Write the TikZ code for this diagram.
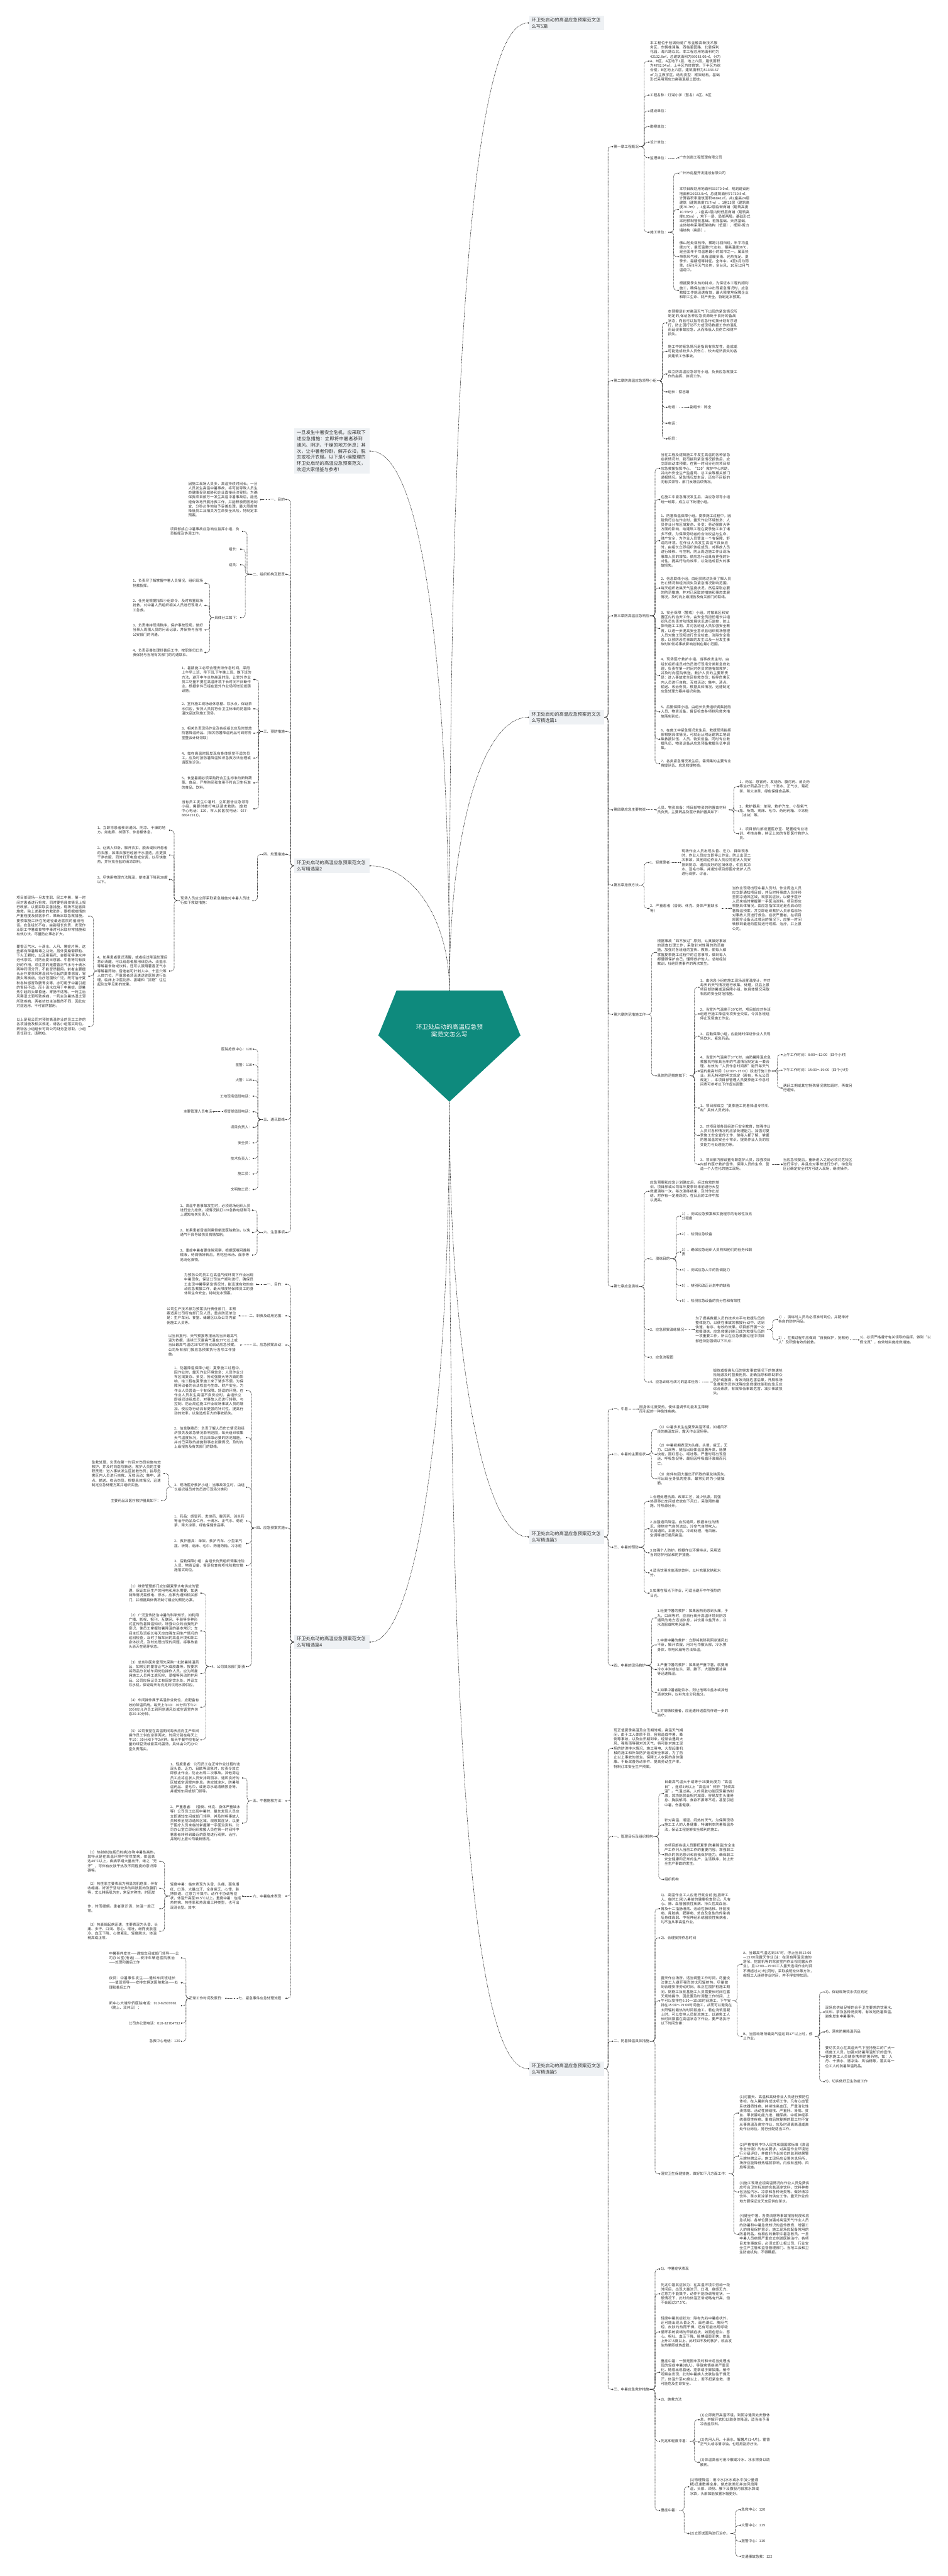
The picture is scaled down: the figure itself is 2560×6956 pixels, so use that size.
\documentclass[tikz,border=0pt]{standalone}
\usepackage{fontspec}
\setmainfont{Noto Sans CJK SC}
\usetikzlibrary{arrows.meta}
\XeTeXlinebreaklocale "zh"
\XeTeXlinebreakskip=0pt plus 1pt
\definecolor{rootteal}{HTML}{0E8A7D}
\definecolor{branchfill}{HTML}{EEF1F4}
\definecolor{inkgray}{HTML}{333333}
\definecolor{wiregray}{HTML}{3A3A3A}

\tikzset{
  lbl/.style={font=\fontsize{9.6}{12.3}\selectfont, text=inkgray, inner sep=1.5pt},
  blk/.style={lbl, text width=192pt, align=left},
  branch/.style={fill=branchfill, font=\fontsize{12.3}{16.8}\selectfont, text=inkgray,
                 text width=189pt, align=left, inner xsep=7pt, inner ysep=5pt},
  rootlbl/.style={font=\fontsize{16.4}{21.7}\selectfont, text=white, align=center},
  link/.style={draw=wiregray, line width=1.1pt, dash pattern=on 2.5pt off 1.5pt,
               rounded corners=8pt, -{Circle[length=3.6pt]}},
}
% connectors: right side, left side, straight
\newcommand{\lnkR}[2]{\draw[link] (#1.east) -| ([xshift=-14pt]#2.west) -- (#2.west);}
\newcommand{\lnkL}[2]{\draw[link] (#1.west) -| ([xshift=14pt]#2.east) -- (#2.east);}
\newcommand{\lnkS}[2]{\draw[link] (#1.east) -- (#2.west);}
\newcommand{\lnkSL}[2]{\draw[link] (#1.west) -- (#2.east);}

\begin{document}
\begin{tikzpicture}[x=1pt,y=-1pt]
  \fill[white] (0,0) rectangle (2560,6956);
  \useasboundingbox (0,0) rectangle (2560,6956);

  % root
  \fill[rootteal] (1071,2675) -- (1357,2675) -- (1406,2796) -- (1214,2975) -- (1022,2796) -- cycle;
  \node[rootlbl] (root) at (1214,2783) {环卫处启动的高温应急预\\案范文怎么写};
  \coordinate (ptop) at (1214,2675);
  \coordinate (pbot) at (1214,2975);

  % first level
  \node[branch,anchor=west] (top) at (1429,62) {环卫处启动的高温应急预案范文怎么写5篇};
  \node[branch,anchor=east] (intro) at (998,1218) {一旦发生中暑安全危机，应采取下述应急措施：立即将中暑者移到通风、阴凉、干燥的地方休息；其次，让中暑者仰卧，解开衣扣，脱去或松开衣服。以下是小编整理的环卫处启动的高温应急预案范文，欢迎大家借鉴与参考!};
  \node[branch,anchor=west] (b1) at (1429,1937) {环卫处启动的高温应急预案范文怎么写精选篇1};
  \node[branch,anchor=east] (b2) at (998,2338) {环卫处启动的高温应急预案范文怎么写精选篇2};
  \node[branch,anchor=west] (b3) at (1429,4150) {环卫处启动的高温应急预案范文怎么写精选篇3};
  \node[branch,anchor=east] (b4) at (998,4434) {环卫处启动的高温应急预案范文怎么写精选篇4};
  \node[branch,anchor=west] (b5) at (1429,5586) {环卫处启动的高温应急预案范文怎么写精选篇5};
  \draw[link] (ptop) .. controls +(0,-1500) and +(-170,0) .. (top.west);
  \draw[link] (ptop) .. controls +(0,-450) and +(-120,0) .. (b1.west);
  \draw[link] (ptop) .. controls +(0,-900) and +(140,0) .. (intro.east);
  \draw[link] (ptop) .. controls +(0,-200) and +(110,0) .. (b2.east);
  \draw[link] (pbot) .. controls +(0,700) and +(-120,0) .. (b3.west);
  \draw[link] (pbot) .. controls +(0,1500) and +(-170,0) .. (b5.west);
  \draw[link] (pbot) .. controls +(0,900) and +(120,0) .. (b4.east);

  % ---------- 篇1 ----------
  \foreach \n/\y/\t in {c1/396/{第一章工程概况}, c2/1028/{第二章防高温应急领导小组},
      c3/1663/{第三章防高温应急响应}, c4/2187/{第四章应急主要物资}, c5/2390/{第五章抢救方法},
      c6/2739/{第六章防范措施工作}, c7/3474/{第七章应急演练}} {
    \node[lbl,anchor=west] (\n) at (1656.5,\y) {\t};
    \lnkR{b1}{\n}
  }
  \foreach \n/\s/\y/\t in {
      c1a/blk/165/{本工程位于桂城街道广东金融高新技术服务区，东朝桂澜路，西临碧园路，北靠保利花园，海六路以北。本工程总用地面积约为42132.8㎡，总建筑面积为56083.00㎡，分为A、B区，A区地下1层，地上六层，建筑面积为4782.94㎡，上半区为体育馆，下半区为综合楼；B区地上六层，建筑面积为51343.67㎡,为主教学区。结构类型：框架结构。基础形式采用预应力高强混凝土管桩。},
      c1b/lbl/257/{工程名称：灯湖小学（暂名）A区、B区}, c1c/lbl/300/{建设单位：},
      c1d/lbl/342/{勘察单位：}, c1e/lbl/384/{设计单位：}, c1f/lbl/426/{监理单位：},
      c1g/lbl/627/{施工单位：}} {
    \node[\s,anchor=west] (\n) at (1754.5,\y) {\t};
    \lnkR{c1}{\n}
  }
  \node[lbl,anchor=west] (c1f1) at (1833.8,426) {广东创南工程管理有限公司};
  \lnkS{c1f}{c1f1}
  \foreach \n/\s/\y/\t in {
      c1g1/lbl/468/{广州市房屋开发建设有限公司},
      c1g2/blk/566/{本项目规划用地面积33370.0㎡，规划建设用地面积26023.0㎡，总建筑面积71730.5㎡，计算容积率建筑面积46841㎡，共2座高24层建筑（建筑高度73.7m）、1座23层（建筑高度70.7m），3座高2层临街商铺（建筑高度10.55m），2座高1层内街低层商铺（建筑高度6.05m），地下一层、局部两层。基础形式采用预制管桩基础、桩筏基础、天然基础，主体结构采用框架结构（低层）、框架-剪力墙结构（高层）。},
      c1g3/blk/693/{佛山地处亚热带，横跨北回归线，年平均温度22℃，最低温度0℃左右，最高温度38℃，是全国年平均温差最小的城市之一。属亚热带季风气候，具有温暖多雨、光热充足、夏季长、霜期短等特征。全年中，4至6月为雨季，8至9月天气炎热，多台风，10至12月气温适中。},
      c1g4/blk/784/{根据夏季炎热的特点，为保证本工程的顺利施工，确保在施工中出现紧急情况时，应急救援工作能迅速有效，最大限度地保障企业和职工生命、财产安全，特制定本预案。}} {
    \node[\s,anchor=west] (\n) at (1833.8,\y) {\t};
    \lnkR{c1g}{\n}
  }
  \foreach \n/\s/\y/\t in {
      c2a/blk/872/{本预案是针对高温天气下出现的紧急情况所制定的,保证各种应急资源处于良好的备战状态；而且可以指导应急行动按计划有序进行，防止因行动不力或现场救援工作的混乱而延误事故应急，从而降低人员伤亡和财产损失。},
      c2b/blk/949/{施工中的紧急情况是指具有突发性，造成或可能造成较多人员伤亡、较大经济损失的各类建筑工伤事故。},
      c2c/blk/1010/{成立防高温应急领导小组，负责应急救援工作的指挥、协调工作。},
      c2d/lbl/1058/{组长：蔡志雄}, c2e/lbl/1100/{电话：}, c2f/lbl/1143/{电话：}, c2g/lbl/1185/{组员：}} {
    \node[\s,anchor=west] (\n) at (1803,\y) {\t};
    \lnkR{c2}{\n}
  }
  \node[lbl,anchor=west] (c2e1) at (1862.2,1100) {副组长：陈全};
  \lnkS{c2e}{c2e1}
  \foreach \n/\y/\t in {
      c3a/1265/{当在工程及建筑施工中发生高温的各种紧急症状情况时，我司接到紧急情况报告后，应立即启动本预案。在第一时间分别向项目部应急救援指挥中心、“120”救护中心求助，并向市安全生产监督局、总工会等相关部门通报情况。紧急情况发生后，还应不间断的向有关领导、部门反馈后续情况。},
      c3b/1349/{在施工中紧急情况发生后，由应急领导小组统一统筹，成立以下处理小组。},
      c3c/1460/{1、防暑降温保障小组。夏季施工过程中，因建筑行业在作业时，露天作业环境较多；人员作业分布区域复杂、多变；劳动强度大等方面的影响，给建筑工程在夏季施工来了诸多不便，为保障劳动者的合法权益与生命、财产安全，为作业人员营造一个有保障、舒适的环境，在作业人员发生高温不良反应时，由组长立即组织该组成员，对事故人员进行转移、与控制，防止周边施工作业现场事故人员的增加。使应急行动具有更强的针对性，提高行动的效率，以免造成巨大的事故损失。},
      c3d/1588/{2、信息联络小组。由组员陈达负责了解人员伤亡情况和经济损失及紧急情况影响范围，每天组织收集天气温度状况，然后采取必要的防范措施，并对已采取的措施和事态发展情况，及时向上级报告及有关部门的联络。},
      c3e/1697/{3、安全保障（警戒）小组。对撤离区和安置区内的治安工作，由安全员担任组长并组织队员负责对险情发展状况进行监控，防止影响施工工期，并对各班组人员加强安全教育，以进一步提高安全意识且组织现场管理人员对施工现场进行安全检查，消除安全隐患，以预防恶性事故的发生以及一旦发生事故时如何将事故影响控制在最小范围。},
      c3f/1824/{4、现场医疗救护小组。当事故发生时，由组长组织组员对伤员进行现场分类和急救处理，负责在第一时间对伤员实施有效救护；并及时向医院转送。救护人员的主要职责是：进入事故发生区抢救伤员；指导危害区内人员进行自救、互救活动；集中、清点、输送、收治伤员。根据具体情况，迅速制定应急处理方案并组织实施。},
      c3g/1922/{5、后勤保障小组。由组长负责组织调集抢险人员、物资设备，督促检查各项抢险救灾措施落实到位。},
      c3h/1996/{6、在施工中紧急情况发生后，救援现场指挥部根据具体情况，可就近从附近建筑工地调集救援队伍、人员、物资设备。同时专业救援队伍、物资设备从应急预备救援队伍中调集。},
      c3i/2062/{7、各类紧急情况发生后，需调集的主要专业救援队伍、应急救援物资。}} {
    \node[blk,anchor=west] (\n) at (1783.6,\y) {\t};
    \lnkR{c3}{\n}
  }
  \node[blk,anchor=west] (c4a) at (1774,2187) {人员、物资准备：项目部物资的购置由材料员负责，主要药品及医疗救护器具如下：};
  \lnkS{c4}{c4a}
  \foreach \n/\y/\t in {
      c4a1/2124/{1、药品：感冒药、发烧药、腹泻药、消炎药等治疗药品及仁丹、十滴水、正气水、菊花茶、降火凉茶、绿色保健食品等。},
      c4a2/2190/{2、救护器具：单架、救护汽车、小型氧气瓶、听筒、病床、毛巾、药用药箱、冷冻柜（冰块）等。},
      c4a3/2251/{3、项目部内部设置医疗室、配置经专业培训、考核合格，持证上岗的专职医疗救护人员。}} {
    \node[blk,anchor=west] (\n) at (1996.2,\y) {\t};
    \lnkR{c4a}{\n}
  }
  \node[lbl,anchor=west] (c5a) at (1754.5,2329) {1、轻度患者};
  \node[blk,anchor=west] (c5b) at (1754.5,2453) {2、严重患者（昏倒、休克、身体严重缺水等）};
  \lnkR{c5}{c5a} \lnkR{c5}{c5b}
  \node[blk,anchor=west] (c5a1) at (1839.6,2329) {现场作业人员出现头昏、乏力、目眩现象时，作业人员应立即停止作业，防止出现二次事故，其他周边作业人员应将症状人员安排到阴凉、通风良好的区域休息，供应其凉水、湿毛巾等。并通知项目部医疗救护人员进行观察、诊治。};
  \node[blk,anchor=west] (c5b1) at (1976.5,2453) {当作业现场出现中暑人员时，作业周边人员应立即通知项目部，并及时将事故人员转移至阴凉通风区域，观察其症状，以便于医疗人员来临时掌握第一手医治资料。项目部应根据具体情况，由应急指挥决定是否启动防暑降温预案。并立即组织救护人员亲临现场对事故人员进行救治。症状严重者，在项目部医疗设备无法救治的情况下，应第一时间转移到最近的医院进行观察、治疗。并上报公司。};
  \lnkS{c5a}{c5a1} \lnkS{c5b}{c5b1}
  \node[blk,anchor=west] (c6a) at (1774,2572) {根据事故“四不放过”原则，认真做好事故的调查处理工作，采取针对性强的防范措施，加强对各班组的宣传、教育，使每人都掌握夏季施工过程中的注意事项，做到每人都懂得保护自己，懂得救护他人。总结经验教训，杜绝同类事件的再次发生。};
  \node[lbl,anchor=west] (c6b) at (1774,2905) {具体防范措施如下：};
  \lnkR{c6}{c6a} \lnkR{c6}{c6b}
  \foreach \n/\y/\t in {
      c6b1/2666/{1、由信息小组在施工现场设置温度计，并对每天的天气情况进行收集、处理，然后上报项目部防暑减温保障小组，依具体情况采取相应的安全防范措施。},
      c6b2/2738/{2、当室外气温高于39℃时，项目部应对各班组进行施工降温专项安全交底，令其各班组停止现场施工作业。},
      c6b3/2798/{3、后勤保障小组，应能随时保证作业人员现场饮水、紧急药品。},
      c6b4/2892/{4、当室外气温高于37℃时，由防暑降温应急救援机构依具当年的气温情况制定出一套合理、有效的“人员作息时间表”避开每天气温的最高时间（12:00～15:00）段进行施工作业。若无特别的明文规定（若有，听从公司规定），本项目部管理人员夏季施工作息时间表可参考以下作适当调整：},
      c6b5/2992/{1、项目部成立“夏季施工防暑降温专项机构”具体人员安排。},
      c6b6/3066/{2、对项目部各班组进行安全教育，增强作业人员对各种情况的应紧处理能力。加强对夏季施工安全宣传工作，使每人都了解、掌握防暑减温的安全小常识，提高作业人员的应变能力与处理能力等。},
      c6b7/3144/{3、项目部内部设置专职医护人员，加强项目内部的医疗救护宣传、保障人员的生命、营造一个人性化的施工现场。}} {
    \node[blk,anchor=west] (\n) at (1890,\y) {\t};
    \lnkR{c6b}{\n}
  }
  \foreach \n/\s/\y/\t in {c6b4a/lbl/2848/{上午工作时间：8:00～12:00（四个小时）},
      c6b4b/lbl/2890/{下午工作时间：15:00～19:00（四个小时）},
      c6b4c/blk/2938/{遇赶工期或其它特殊情况需加班时，再做另行通知。}} {
    \node[\s,anchor=west] (\n) at (2114,\y) {\t};
    \lnkR{c6b4}{\n}
  }
  \node[blk,anchor=west] (c6b7a) at (2114,3144) {当应急恢复后，重新进入之前必须对危险区进行评价，并且应对事故进行分析，待危险区已确定安全时方可进入现场，继续操作。};
  \lnkS{c6b7}{c6b7a}
  \foreach \n/\s/\y/\t in {
      c7a/blk/3217/{应急预案和应急计划确立后，经过有效的培训，项目部或公司每年夏季到来前进行大型救援演练一次。每次演练结束，及时作出总结，对存有一定差距的，在日后的工作中加以提高。},
      c7b/lbl/3399/{1、演练目的}, c7c/lbl/3590/{2、应急预案演练情况}, c7d/lbl/3665/{3、应急流程图},
      c7e/lbl/3732/{4、应急训练与演习的基本任务：}} {
    \node[\s,anchor=west] (\n) at (1754.5,\y) {\t};
    \lnkR{c7}{\n}
  }
  \foreach \n/\s/\y/\t in {c7b1/blk/3284/{1）、测试应急预案和实施程序的有效性及充分程度},
      c7b2/lbl/3332/{2）、检测应急设备}, c7b3/blk/3381/{3）、确保应急组织人员熟知他们的任务和职责},
      c7b4/lbl/3429/{4）、测试应急人中的协调能力}, c7b5/lbl/3471/{5）、辨别和改正计划中的缺陷},
      c7b6/lbl/3513/{6）、检测应急设备的充分性和有效性}} {
    \node[\s,anchor=west] (\n) at (1840.3,\y) {\t};
    \lnkR{c7b}{\n}
  }
  \node[blk,anchor=west] (c7c1) at (1877,3590) {为了提高救援人员的技术水平与救援队伍的整体能力，以便在事故的救援行动中，达到快速、有序、有效的效果。项目部开展一次救援演练，应急救援训练已成为救援队伍的一项重要工作，所以在应急救援过程中项目部还特别强调以下三点：};
  \lnkS{c7c}{c7c1}
  \node[blk,anchor=west] (c7c1a) at (2101.2,3563) {1）、演练时人员均必须准时到位，并配带好各自的防护用品。};
  \node[blk,anchor=west] (c7c1b) at (2101.2,3618) {2）、在救过程中应做到“自我保护，抢救他人”及积极有效的抢救。};
  \lnkR{c7c1}{c7c1a} \lnkR{c7c1}{c7c1b}
  \node[blk,anchor=west] (c7c1b1) at (2321.4,3618) {3)、必须严格遵守有关领导的指挥，做到“以假论真”，有效地实施抢救措施。};
  \lnkS{c7c1b}{c7c1b1}
  \node[blk,anchor=west] (c7e1) at (1925.3,3732) {锻炼或提高队伍的突发事故情况下的快速抢险堵源及时营救伤员、正确指导和帮助群众防护或撤离，有效消除危害后果，开展现场急救和伤员转送等应急救援技能和应急反应综合素质，有效降低事故危害，减少事故损失。};
  \lnkS{c7e}{c7e1}

  % ---------- 篇3 ----------
  \foreach \n/\y/\t in {e1/3805/{一、中暑}, e2/3927/{二、中暑的主要症状}, e3/4178/{三、中暑的预防},
      e4/4497/{四、中暑的现场救护}} {
    \node[lbl,anchor=west] (\n) at (1656.5,\y) {\t};
    \lnkR{b3}{\n}
  }
  \node[blk,anchor=west] (e1a) at (1725.6,3805) {因身体过度受热，使体温调节功能发生障碍而引起的一种急性疾病。};
  \lnkS{e1}{e1a}
  \foreach \n/\y/\t in {
      e2a/3860/{（1）中暑多发生在夏季高温环境，如通风不良的高温车间，露天作业现场等。},
      e2b/3927/{（2）中暑初期表现为头痛，头晕，疲乏，无力、口渴等，随后出现体温显著升高，脉搏快速，面红恶心、呕吐等。严重时可出现昏迷、呼吸急促等，最后因呼吸循环衰竭而死亡。},
      e2c/3993/{（3）如伴有因大量出汗所致的氯化钠丢失，可出现全身肌肉痉挛，最常见的为小腿抽筋。}} {
    \node[blk,anchor=west] (\n) at (1774,\y) {\t};
    \lnkR{e2}{\n}
  }
  \foreach \n/\y/\t in {
      e3a/4054/{1.合理处理热源。改革工艺，减少热源，将强热源移出车间或安放在下风口。采取隔热措施，将热源分开。},
      e3b/4128/{2.加强通风降温。自然通风，根据单位的情况，使热空气自然流出，冷空气自然吹入。机械通风，采用风机、冷却处理，电风扇、空调等进行通风高温。},
      e3c/4193/{3.加强个人防护。根据作业环境特点，采用适当的防护用品和防护措施。},
      e3d/4247/{4.适当饮用含盐清凉饮料，以补充氯化钠和水分。},
      e3e/4302/{5.如果在阳光下作业，可适当避开中午强烈的日光。}} {
    \node[blk,anchor=west] (\n) at (1754.5,\y) {\t};
    \lnkR{e3}{\n}
  }
  \foreach \n/\y/\t in {
      e4a/4369/{1.轻度中暑的救护：如果因热而感到头痛，手九，口渴等时，应自行离开高温环境到阴凉通风的地方适当休息，并饮用冷盐开水，冷水洗脸或吹电风扇等。},
      e4b/4442/{2.中度中暑的救护：立即将其移到阴凉通风处平卧，解开衣服，用冷毛巾敷头部，冷水擦身体，吹电风扇等方法降温。},
      e4c/4508/{3.严重中暑的救护：如果是严重中暑，就要用冷水冲淋或在头、颈、腋下、大腿放置冰袋等迅速降温。},
      e4d/4570/{4.如果中暑者能饮水，则让他喝冷盐水或其他清凉饮料，以补充水分和盐分。},
      e4e/4626/{5.对病情较重者，应迅速转送医院作进一步的治疗。}} {
    \node[blk,anchor=west] (\n) at (1774,\y) {\t};
    \lnkR{e4}{\n}
  }

  % ---------- 篇5 ----------
  \foreach \n/\s/\y/\t in {
      g0/blk/4721/{现正值夏季高温及台汛期时期，高温天气期间，由于工人体质不同，容易造成中暑、晕倒等事故，以及台汛期到来，经常会遇到大风、强降雨等强对流天气，将可能对施工现场的防洪排水情况、施工用电、大型起重机械的施工和外架防护造成安全事故，为了防止以上事故的发生、保障工人农民的身体健康、不断改善劳动条件、提高劳动生产率，特制订本安全生产预案。},
      g1/lbl/4959/{一、管理目标及组织机构}, g2/lbl/5512/{二、防暑降温具体措施},
      g3/lbl/6452/{三、中暑应急救护措施}} {
    \node[\s,anchor=west] (\n) at (1656.5,\y) {\t};
    \lnkR{b5}{\n}
  }
  \foreach \n/\s/\y/\t in {
      g1a/blk/4843/{日最高气温大于或等于35摄氏度为“高温日”，连续5天以上“高温日”称作“持续高温”。气温过高，人的肾脏功能因受暑热刺激，其功能就会相对减弱，容易发生头重倦怠、胸脘郁闷、食欲不振等不适，甚至引起中暑，伤害健康。},
      g1b/blk/4928/{针对高温、潮湿、闷热的天气，为保障现场施工工人的人身健康，特编制本防暑降温办法，保证工程能够安全顺利的施工。},
      g1c/blk/5008/{本项目部各级人员要把夏季(防暑降温)安全生产工作列入当前工作的重要内容。增强职工群众的防范意识和自我保护能力。确保职工安全健康和正常的生产、生活秩序，防止安全生产事故的发生。},
      g1d/lbl/5075/{组织机构}} {
    \node[\s,anchor=west] (\n) at (1793.5,\y) {\t};
    \lnkR{g1}{\n}
  }
  \foreach \n/\s/\y/\t in {
      g2a/blk/5154/{1)、高温作业工人应进行就业前(包括新工人、临时工)和入暑前的健康检查登记。凡有心、肺、血管器质性疾病、持久性高血压、胃及十二指肠溃疡、活动性肺结核、肝脏疾病、肾脏病、肥胖病、贫血及急性的传染病后身体衰弱、中枢神经系统器质性疾病者，均不宜从事高温作业。},
      g2b/lbl/5233/{2)、合理安排作息时间},
      g2c/blk/5403/{露天作业场所，适当调整工作时间，尽量设法使工人避开强烈的太阳辐射热，尽量做到合理安排劳动时间。现正在围护桩施工期间，钢筋工及桩基施工人员需要长时间在露天场地操作，因此要及时调整工作时间，上午可以安排在6:30～10:30时间施工，下午安排在15:00～19:00时间施工，从而可以避免在太阳辐射最热的时间段施工。若在浇筑混凝土时，可以安排人员轮流施工，以避免工人长时间暴露在高温状态下作业。要严格执行以下时间安排：},
      g2d/lbl/5870/{落实卫生保健措施，做好如下几方面工作：}} {
    \node[\s,anchor=west] (\n) at (1783.6,\y) {\t};
    \lnkR{g2}{\n}
  }
  \node[blk,anchor=west] (g2c1) at (2005.8,5304) {A、当最高气温达到35°时，停止当日12:00—15:00段露天作业(注：在没有降温设施的塔吊、挖掘机等的驾驶室内作业视同露天作业)，且12:00—15:00工人露天连续作业时间不得超过2小时;同时，采取换班轮休等方法，缩短工人连续作业时间，并不得安排加班。};
  \node[blk,anchor=west] (g2c2) at (2005.8,5499) {B、当劳动场所最高气温达到37°以上时，停止作业。};
  \lnkR{g2c}{g2c1} \lnkR{g2c}{g2c2}
  \foreach \n/\s/\y/\t in {g2c2a/lbl/5379/{3)、保证现场饮水供应充足},
      g2c2b/blk/5433/{现场应供给足够的合乎卫生要求的饮用水、饮料、茶及各种汤类等，有效地防暑降温，避免发生中暑事件。},
      g2c2c/lbl/5487/{4)、落实防暑降温药品},
      g2c2d/blk/5554/{要切实关心在高温天气下坚持施工的广大一线施工人员，加强对防暑降温知识的宣传，要求施工人员随身携带防暑药物，如：人丹、十滴水、清凉油、风油精等，落实每一位工人的防暑降温药品。},
      g2c2e/lbl/5621/{5)、切实做好卫生防疫工作}} {
    \node[\s,anchor=west] (\n) at (2228,\y) {\t};
    \lnkR{g2c2}{\n}
  }
  \foreach \n/\y/\t in {
      g2d1/5706/{(1)对露天、高温和高处作业人员进行预防性体检，在入暑前完成这项工作，凡有心血管系统器质性病、持续性高血压、严重消化性溃疡病、活动性肺结核、严重肝、肾病、贫血、甲状腺功能亢进、糖尿病、中枢神经系统器质性疾病、重病后恢复期的职工均不宜从事高温及高空作业，应及时调离高温或高处作业岗位，另行分配适当工作。},
      g2d2/5822/{(2)严格按照中华人民共和国国家标准《高温作业分级》的有关要求，对高温作业环境进行分级评价，并做好作业岗位的监测结果警示牌挂牌公示。施工现场应设置休息场所，场所应能降低热辐射影响，内设有座椅、风扇等设施。},
      g2d3/5919/{(3)施工现场应视高温情况向作业人员免费供应符合卫生标准的含盐清凉饮料，饮料种类包括盐汽水、凉茶和各种汤类等。做好清凉饮料、茶水和凉茶的供应工作。露天作业的地方要保证全天充足供应茶水。},
      g2d4/6033/{(4)健全中暑、各类流感等事故报告制度和应急机制。各单位要加强对高温天气作业人员的防暑和中暑急救知识的宣传教育，增强工人的自我保护意识。施工现场应配备常用的防暑药品，有相应的兼职中暑急救员，一旦中暑人员病情严重应立刻送医院治疗。各项目发生事故后，必须立即上报公司、行业安全生产主管和监督管理部门、当地工会和卫生防疫机构，不得瞒报。}} {
    \node[blk,anchor=west] (\n) at (1996.2,\y) {\t};
    \lnkR{g2d}{\n}
  }
  \foreach \n/\s/\y/\t in {g3a/lbl/6127/{1)、中暑症状表现},
      g3b/blk/6194/{先兆中暑其症状为：在高温环境中劳动一段时间后，出现大量流汗、口渴、身感无力、注意力不能集中，动作不能协调等症状，一般情况下，此时的体温正常或略有升高，但不会超过37.5℃。},
      g3c/blk/6297/{轻度中暑其症状为：除有先兆中暑症状外，还可能出现头昏乏力、面色潮红、胸闷气短、皮肤灼热而干燥，还有可能出现呼吸循环系统衰竭的早期症状，如面色苍白、恶心、呕吐、血压下降、脉搏细弱而快，体温上升37.5度以上。此时如不及时救护，就会发生热晕厥或热虚脱。},
      g3d/blk/6406/{重症中暑：一般是因未及时和未适当处理出现的轻症中暑(病人)，导致病情继续严重恶化，随着出现昏迷、痉挛或手脚抽搐。稍作观察会发现，此时中暑病人皮肤往往干燥无汗，体温升至40度以上，若不赶紧急救，很可能危及生命安全。},
      g3e/lbl/6479/{2)、施救方法}, g3f/lbl/6592/{先兆和轻度中暑：}, g3g/lbl/6779/{重症中暑：}} {
    \node[\s,anchor=west] (\n) at (1783.6,\y) {\t};
    \lnkR{g3}{\n}
  }
  \foreach \n/\y/\t in {
      g3f1/6534/{(1)立即离开高温环境，到阴凉通风处安静休息，并解开衣扣以助身体降温，适当给予清凉含盐饮料。},
      g3f2/6594/{(2)先用人丹、十滴水、解暑片(1-4片)，霍香正气丸或涂清凉油，也可用刮痧疗法。},
      g3f3/6649/{(3)体温高者可用冷敷或冷水、冰水擦身以助散热。}} {
    \node[blk,anchor=west] (\n) at (1890,\y) {\t};
    \lnkR{g3f}{\n}
  }
  \node[blk,anchor=west] (g3g1) at (1862.2,6715) {(1)物理降温：用冷水(冰水或水中加少量酒精)迅速敷擦全身，使皮肤发红并加风扇降温，头部、颈侧、腋下及腹股沟部放水袋或冰袋，头部如能放置冰帽更好。};
  \node[lbl,anchor=west] (g3g2) at (1862.2,6841) {(2)立即送医院进行治疗。};
  \lnkR{g3g}{g3g1} \lnkR{g3g}{g3g2}
  \foreach \n/\y/\t in {g3g2a/6777/{急救中心：120}, g3g2b/6819/{火警中心：119},
      g3g2c/6862/{报警中心：110}, g3g2d/6903/{交通事故急救：122}} {
    \node[lbl,anchor=west] (\n) at (2001.3,\y) {\t};
    \lnkR{g3g2}{\n}
  }

  % ---------- 篇2 ----------
  \foreach \n/\y/\t in {d1/1349/{一、目的}, d2/1551/{二、组织机构及职责}, d3/1975/{三、预防措施},
      d4/2307/{四、处置措施}, d5/3023/{五、通讯联络}, d6/3328/{六、注意事项}} {
    \node[lbl,anchor=east] (\n) at (771,\y) {\t};
    \lnkL{b2}{\n}
  }
  \node[blk,anchor=east] (d1a) at (702.5,1349) {因施工现场人员多，高温持续时间长。一旦人员发生高温中暑事故，将可能导致人员生命健康受到威胁和企业直接经济受损。为确保我项目部万一发生高温中暑事故后，能迅速有效地开展抢救工作，并能积极而因地制宜、分秒必争地给予妥善处理，最大限度地降低员工及相关方生命安全风险，特制定本预案。};
  \lnkSL{d1}{d1a}
  \node[blk,anchor=east] (d2a) at (653.5,1435) {项目部成立中暑事故应急响应指挥小组，负责指挥及协调工作。};
  \foreach \n/\y/\t in {d2b/1483/{组长：}, d2c/1525/{成员：}, d2d/1668/{具体分工如下：}} {
    \node[lbl,anchor=east] (\n) at (648.5,\y) {\t};
  }
  \foreach \n in {d2a,d2b,d2c,d2d} {\lnkL{d2}{\n}}
  \foreach \n/\y/\t in {
      d2d1/1575/{1、负责尽了解掌握中暑人员情况，组织现场抢救指挥。},
      d2d2/1635/{2、任务是根据指挥小组命令，及时布置现场抢救，对中暑人员组织相关人员进行现场人工急救。},
      d2d3/1701/{3、负责维持现场秩序，保护事故现场，做好当事人周围人员的问讯记录，并保持与当地公安部门的沟通。},
      d2d4/1762/{4、负责妥善处理好善后工作，按职能归口负责保持与当地有关部门的沟通联系。}} {
    \node[blk,anchor=east] (\n) at (552.5,\y) {\t};
    \lnkL{d2d}{\n}
  }
  \foreach \n/\y/\t in {
      d3a/1835/{1、暑期施工必须合理安排作息时间，采用上午早上班、早下班,下午晚上班、晚下班的方法，避开中午炎热高温时段，让室外作业员工尽量不要在高温环境下长时间不间断作业，根据条件已经在室外作业场所增设遮荫设施。},
      d3b/1914/{2、室外施工现场设休息棚、饮水点，保证茶水供应，安排人员将符合卫生标准的防暑降温饮品送到施工现场。},
      d3c/1980/{3、相关负责现场作业及各组组长应及时发放防暑降温药品。(相关防暑降温药品可到财务室暨会计处领取)},
      d3d/2047/{4、如在高温时段发现有身体感觉不适的员工，应及时按防暑降温知识急救方法治理或请医生诊治。},
      d3e/2114/{5、食堂暑期必须采购符合卫生标准的新鲜蔬菜、食品，严禁购买和食用不符合卫生标准的食品、饮料。},
      d3f/2184/{当有员工发生中暑时，立即报告应急领导小组，需要时拨打电话请求救助。(急救中心电话：120，市人民医院电话：027-88041911)，}} {
    \node[blk,anchor=east] (\n) at (684.5,\y) {\t};
    \lnkL{d3}{\n}
  }
  \node[blk,anchor=east] (d4a) at (681.5,2432) {现场人员应立即采取紧急措施对中暑人员进行如下救助措施：};
  \lnkL{d4}{d4a}
  \foreach \n/\y/\t in {
      d4a1/2242/{1、立即将患者移到通风、阴凉、干燥的地方。如走廊、树荫下、休息棚休息。},
      d4a2/2309/{2、让病人仰卧，解开衣扣，脱去或松开患者的衣服，如果衣服已经被汗水湿透，应更换干净衣服，同时打开电扇或空调，以尽快散热，并补充含盐的清凉饮料。},
      d4a3/2375/{3、尽快用物理方法降温，使体温下降到38度以下。},
      d4a4/2622/{4、如果患者意识清醒，或者经过降温处理后意识清醒，可以给患者服用绿豆汤、淡盐水等解暑食物或饮料，还可以服用藿香正气水等解暑药物。昏迷者可针刺人中、十宣穴等人体穴位，严重患者须迅速送往医院进行处理。临床上中医刮痧、拔罐和“抓筋”往往起到立竿见影的效果。}} {
    \node[blk,anchor=east] (\n) at (456.5,\y) {\t};
    \lnkL{d4a}{\n}
  }
  \foreach \n/\y/\t in {
      d4a4a/2474/{项目部现场一旦发生职、民工中暑，第一时间对患者进行抢救，同时要将具体情况上报行政部，以便采取妥善措施，现场不能盲目施救。除上述基本的救助外，要根据病情的严重程度及就医条件，果断采取急救措施。要索取施工所在地途径最近医院的值班电话。应急组长不在，由副组长负责，发现作业职工中暑或食物中毒时可采取非常措施和有效办法，尽量防止事态扩大。},
      d4a4b/2636/{藿香正气水、十滴水、人丹、暑症片等，这些都有降暑解毒之功效。另外夏桑菊颗粒、下火王颗粒，以及用菊花、金银花等泡水冲泡代茶饮，对防治夏日感冒、中暑等均有良好的作用。须注意的是藿香正气水与十滴水两种药须分开，不能冒然替用。前者主要擅长治疗夏季风寒湿邪所引起的夏季感冒，胃肠炎等疾病，治疗范围较广泛。既可治疗夏秋各种感冒及肠胃炎等，亦可用于中暑引起的胃肠不适。而十滴水仅用于中暑症，即暑热引起的头晕昏迷、胃肠不适等。一药主治风寒湿之邪所致疾病，一药主治暑热湿之邪所致疾病，两者功效主治截然不同，因此应对症选用，不可冒然替用。},
      d4a4c/2772/{以上是我公司对预防高温作业的员工工作的各项措施及相关规定，请各小组落实到位，药物各小组组长可到公司财务室领取，小组责任到位，请熟知。}} {
    \node[blk,anchor=east] (\n) at (238.5,\y) {\t};
    \lnkL{d4a4}{\n}
  }
  \foreach \n/\y/\t in {d5a/2833/{医院抢救中心：120}, d5b/2875/{匪警：110}, d5c/2917/{火警：119},
      d5d/2960/{工地现场值班电话：}, d5e/3002/{项管部值班电话：}, d5f/3044/{项目负责人：},
      d5g/3086/{安全员：}, d5h/3128/{技术负责人：}, d5i/3170/{施工员：}, d5j/3212/{文明施工员：}} {
    \node[lbl,anchor=east] (\n) at (682.5,\y) {\t};
    \lnkL{d5}{\n}
  }
  \node[lbl,anchor=east] (d5e1) at (574.5,3002) {主要管理人员电话};
  \lnkSL{d5e}{d5e1}
  \foreach \n/\y/\t in {
      d6a/3268/{1、高温中暑事故发生时，必须现场组织人员进行全力抢救，视情况拨打120急救电话和马上通知有关负责人。},
      d6b/3328/{2、如果患者昏迷则需侧躺送医院救治，以免通气不良导致伤员病情加剧。},
      d6c/3389/{3、重症中暑者要住院观察，根据医嘱可静脉输液，待病情好转后，再吃些米汤、面条等易消化食物。}} {
    \node[blk,anchor=east] (\n) at (680.5,\y) {\t};
    \lnkL{d6}{\n}
  }

  % ---------- 篇4 ----------
  \foreach \n/\y/\t in {f1/3468/{一、目的：}, f2/3553/{二、职责及适用范围：}, f3/3632/{三、应急预案启动：},
      f4/4126/{四、应急预案实施}, f5/4863/{五、中暑施救方法：}, f6/5120/{六、中暑临床表现：},
      f7/5396/{七、紧急事件应急处理流程：}} {
    \node[lbl,anchor=east] (\n) at (771,\y) {\t};
    \lnkL{b4}{\n}
  }
  \node[blk,anchor=east] (f1a) at (691.5,3468) {为预防公司员工在高温气候环境下作业出现中暑现象，保证公司生产顺利进行，确保员工出现中暑等紧急情况时，能迅速有效的启动应急救援工作，最大限度地保障员工的身体和生命安全，特制定本预案。};
  \node[blk,anchor=east] (f2a) at (644.5,3553) {公司生产技术部为预案执行责任部门，本预案适用公司所有部门及人员，重点防范单位是：生产车间、食堂、储罐区以及公司内雇佣施工人员等。};
  \node[blk,anchor=east] (f3a) at (648.5,3632) {以当日报刊、天气预报等报出的当日最高气温为依据，连续三天最高气温在37℃以上或当日最高气温达38℃时自动启动应急预案。公司所有部门按应急预案执行各项工作措施。};
  \lnkSL{f1}{f1a} \lnkSL{f2}{f2a} \lnkSL{f3}{f3a}
  \foreach \n/\s/\y/\t in {
      f4a/blk/3755/{1、防暑降温保障小组：夏季施工过程中，因作业时，露天作业环境较多；人员作业分布区域复杂、多变；劳动强度大等方面的影响，给工程在夏季施工来了诸多不便。为保障劳动者的合法权益与生命、财产安全，为作业人员营造一个有保障、舒适的环境。在作业人员发生高温不良反应时，由组长立即组织该组成员，对事故人员进行转移、与控制，防止周边施工作业现场事故人员的增加。使应急行动具有更强的针对性，提高行动的效率，以免造成巨大的事故损失。},
      f4b/blk/3882/{2、信息联络员：负责了解人员伤亡情况和经济损失及紧急情况影响范围，每天组织收集天气温度状况，然后采取必要的防范措施，并对已采取的措施和事态发展情况，及时向上级报告及有关部门的联络。},
      f4c/blk/4016/{3、现场医疗救护小组：当事故发生时，由组长组织组员对伤员进行现场分类和},
      f4d/blk/4107/{1、药品：感冒药、发烧药、腹泻药、消炎药等治疗药品及仁丹、十滴水、正气水、菊花茶、降火凉茶、绿色保健食品等。},
      f4e/blk/4168/{2、救护器具：单架、救护汽车、小型氧气瓶、听筒、病床、毛巾、药用药箱、冷冻柜},
      f4f/blk/4227/{3、后勤保障小组：由组长负责组织调集抢险人员、物资设备，督促检查各项抢险救灾措施落实到位。},
      f4g/lbl/4500/{4、公司其余部门职责}} {
    \node[\s,anchor=east] (\n) at (664.5,\y) {\t};
    \lnkL{f4}{\n}
  }
  \node[blk,anchor=east] (f4c1) at (441.5,3979) {急救处理，负责在第一时间对伤员实施有效救护，并及时向医院转送。救护人员的主要职责是：进入事故发生区抢救伤员；指导危害区内人员进行自救、互救活动；集中、清点、输送、收治伤员。根据具体情况，迅速制定应急处理方案并组织实施。};
  \node[lbl,anchor=east] (f4c2) at (435.5,4052) {主要药品及医疗救护器具如下：};
  \lnkL{f4c}{f4c1} \lnkL{f4c}{f4c2}
  \foreach \n/\y/\t in {
      f4g1/4302/{（1）维修管理部门应加强夏季水电供应的管理，保证车间生产的用电和用水需要，如遇特殊情况需停电、停水，应事先通知相关部门，并根据具体情况制订相应的预防方案。},
      f4g2/4404/{（2）广泛宣传防治中暑的科学知识，如利用广播、影视、报刊、互联网、手册等多种形式宣传防暑降温知识，增强公众的自我防护意识，使员工掌握防暑降温的基本常识；车间主任及班组长每天应加强车间生产情况的巡回检查，及时了解车间的高温环境和职工身体状况，及时处理出现的问题，将事故苗头消灭在萌芽状态。},
      f4g3/4519/{（3）总务科医务室预先采购一批防暑降温药品，如常见的藿香正气水或胶囊等，按要求将药品分发给车间岗位操作人员。应为所雇佣施工人员停工遮阳伞、草帽等劳动防护用品。公司应保证员工有固定饮水处，并设立饮水机，保证每天有充足的饮用水源供应。},
      f4g4/4610/{（4）车间操作属于高温作业岗位，应配备有效的降温风扇。每天上午10：30分和下午2：30分应允许员工到阴凉通风处或空调室内休息20-30分钟。},
      f4g5/4698/{（5）公司食堂在高温期间每天应向生产车间操作员工供应凉茶两次，时间分别在每天上午10：30分和下午2点钟。每天午餐中应有足量的绿豆汤或紫菜鸡蛋汤。具体由公司办公室负责落实。}} {
    \node[blk,anchor=east] (\n) at (541.5,\y) {\t};
    \lnkL{f4g}{\n}
  }
  \node[blk,anchor=east] (f5a) at (653.5,4801) {1、轻度患者：公司员工在正常作业过程时出现头昏、乏力、目眩等现象时，应责令其立即停止作业，防止出现二次事故。其他周边员工应将症状人员安排到阴凉、通风良好的区域或空调室内休息。供应其凉水、防暑降温药品、湿毛巾，或用凉水或酒精擦身等。并通知车间或部门领导。};
  \node[blk,anchor=east] (f5b) at (653.5,4923) {2、严重患者：（昏倒、休克、身体严重缺水等）公司员工出现中暑时，最先发现人员应立即通知车间或部门领导，并及时将事故人员转移至阴凉通风区域，观察其症状，以便于医疗人员来临时掌握第一手医治资料。公司办公室立即组织救援人员在第一时间将中暑患者转移到最近的医院进行观察、治疗。并随时上报公司最新情况。};
  \lnkL{f5}{f5a} \lnkL{f5}{f5b}
  \node[blk,anchor=east] (f6a) at (653.5,5120) {轻度中暑：临床表现为头昏、头痛、面色潮红、口渴、大量出汗、全身疲乏、心悸、脉搏快速、注意力不集中、动作不协调等症状，体温升高至38.5℃以上。重度中暑：包括热射病、热痉挛和热衰竭三种类型，也可出现混合型。其中：};
  \lnkSL{f6}{f6a}
  \foreach \n/\y/\t in {
      f6a1/5026/{（1）热射病(包括日射病)亦称中暑性高热，其特点是在高温环境中突然发病，体温高达40℃以上，疾病早期大量出汗，继之“无汗”，可伴有皮肤干热及不同程度的意识障碍等。},
      f6a2/5099/{（2）热痉挛主要表现为明显的肌痉挛，伴有收缩痛。好发于活动较多的四肢肌肉及腹肌等，尤以腓肠肌为主，常呈对称性。时而发},
      f6a3/5154/{作，时而缓解。患者意识清，体温一般正常。},
      f6a4/5215/{（3）热衰竭起病迅速，主要表现为头昏、头痛、多汗、口渴、恶心、呕吐，继而皮肤湿冷、血压下降、心律紊乱、轻度脱水，体温稍高或正常。}} {
    \node[blk,anchor=east] (\n) at (430.5,\y) {\t};
    \lnkL{f6a}{\n}
  }
  \node[lbl,anchor=east] (f7a) at (608.5,5396) {正常工作时间及假日：};
  \lnkSL{f7}{f7a}
  \foreach \n/\s/\y/\t in {
      f7a1/blk/5287/{中暑事件发生——通知车间或部门领导——公司办公室(电话)——安排车辆送医院救治——处理和善后工作},
      f7a2/blk/5354/{夜间：中暑事件发生——通知车间班组长——值班领导——安排车辆送医院救治——处理和善后工作},
      f7a3/blk/5416/{新中心大塘华侨医院电话：010-82609981（晚上、双休日）；},
      f7a4/lbl/5463/{公司办公室电话：010-82704792},
      f7a5/lbl/5512/{急救中心电话：120}} {
    \node[\s,anchor=east] (\n) at (488.5,\y) {\t};
    \lnkL{f7a}{\n}
  }
\end{tikzpicture}
\end{document}
